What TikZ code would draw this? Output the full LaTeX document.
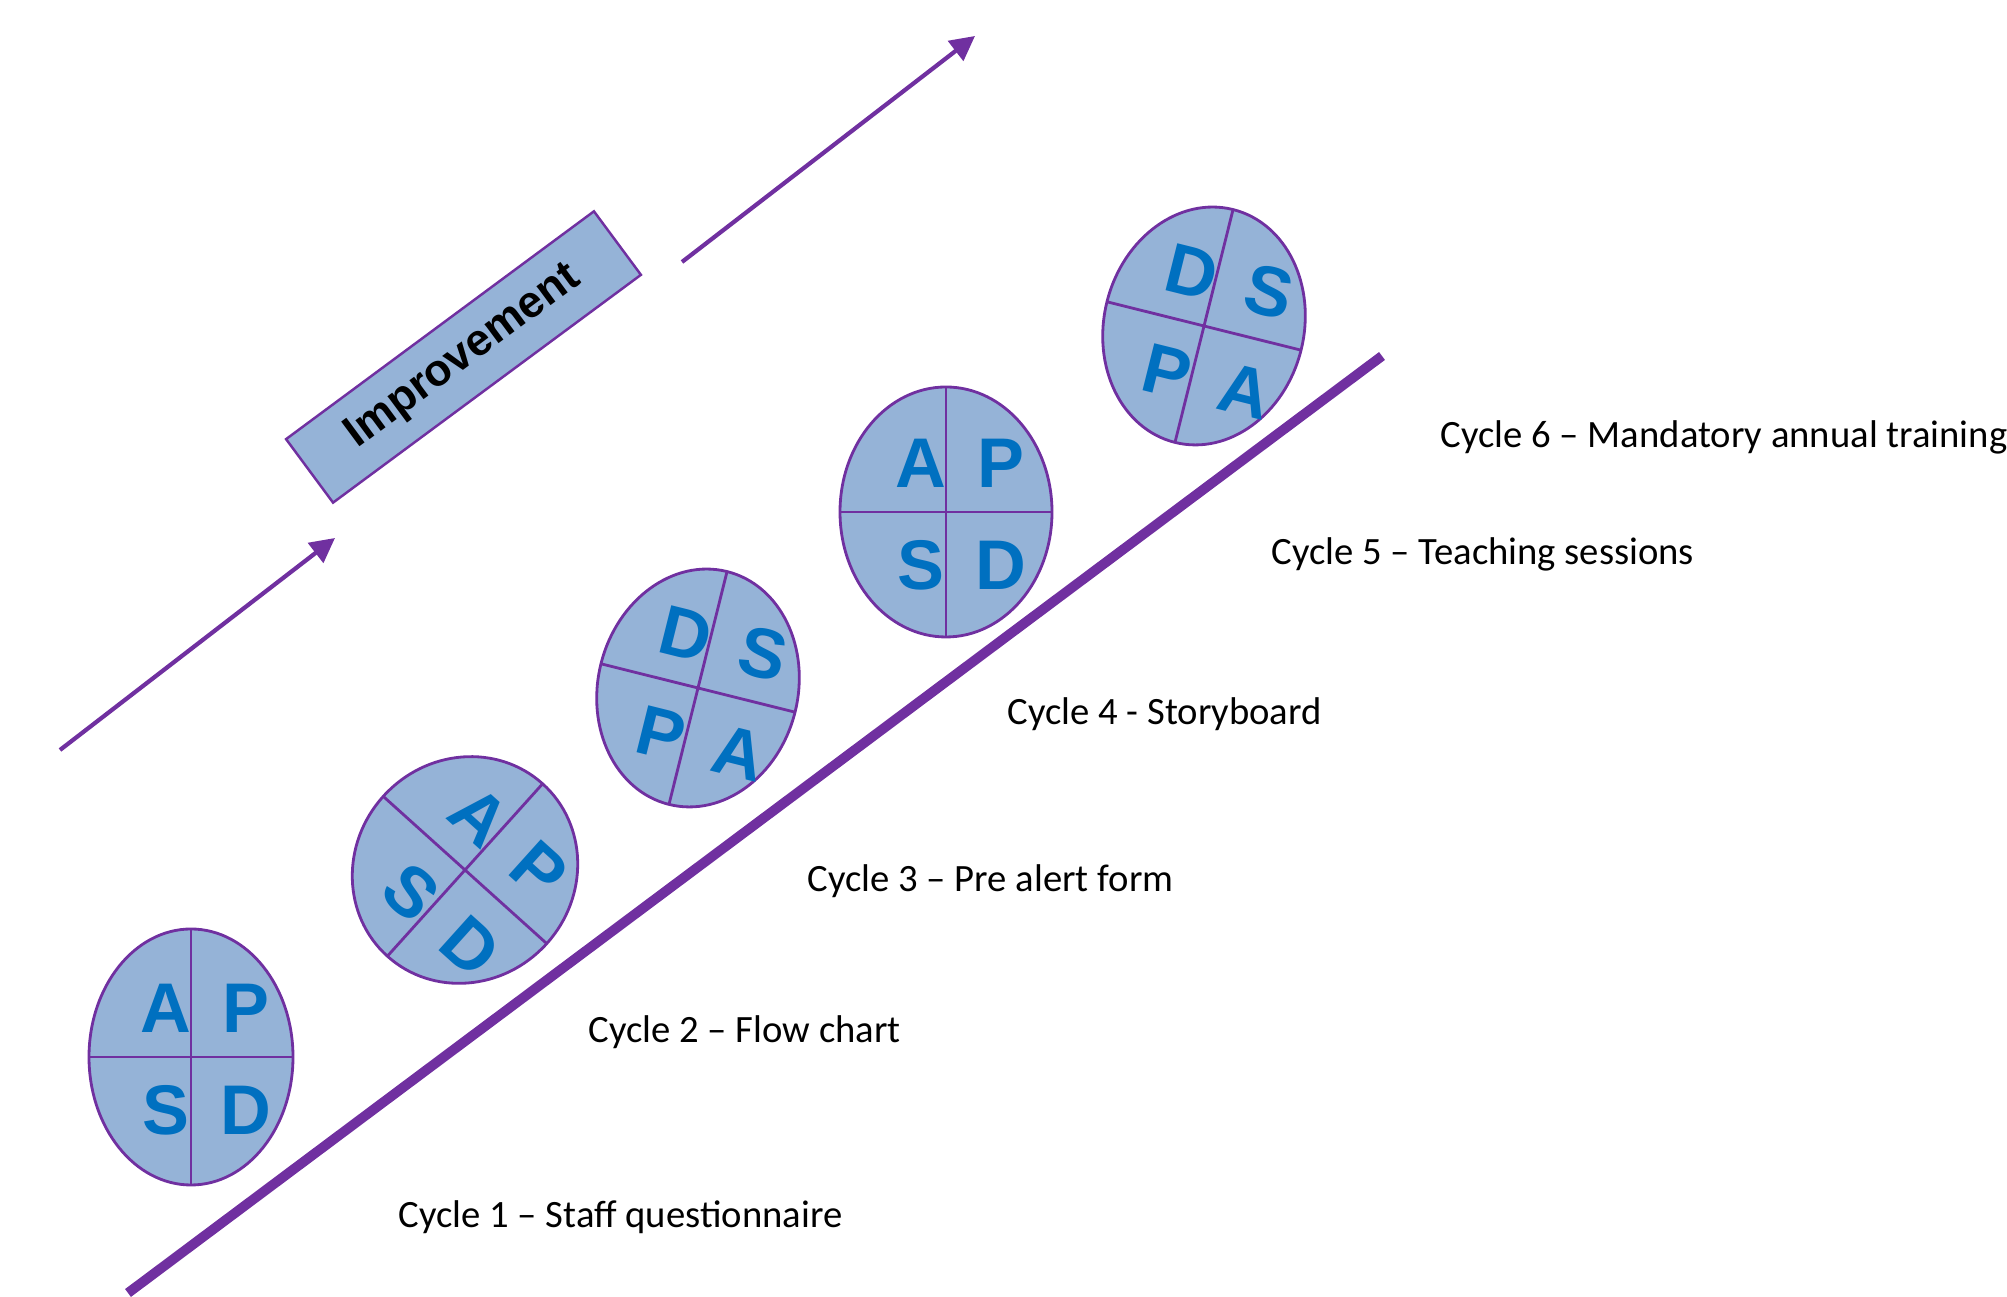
\documentclass[tikz,border=0pt]{standalone}
\usepackage{fontspec}
\setmainfont{Carlito}
\newfontfamily\arialfont{Liberation Sans}
\usetikzlibrary{arrows.meta}

\definecolor{pdsafill}{HTML}{95B3D7}
\definecolor{pdsaline}{HTML}{7030A0}
\definecolor{pdsatext}{HTML}{0070C0}

\tikzset{
  pdsa/.style={draw=pdsaline, fill=pdsafill, line width=0.8pt},
  quarter/.style={draw=pdsaline, line width=0.8pt},
  letter/.style={text=pdsatext, inner sep=0pt, transform shape,
    font=\arialfont\bfseries\fontsize{20}{24}\selectfont},
  cycle/.style={anchor=base west, inner sep=0pt, font=\fontsize{11}{13}\selectfont},
  trend/.style={draw=pdsaline, line width=1.2pt, -{Triangle[length=7pt,width=7pt]}}
}

\begin{document}
\begin{tikzpicture}
\useasboundingbox (0,0) rectangle (20.07,12.97);

% base line
\draw[pdsaline, line width=2.8pt] (1.28,0.04) -- (13.82,9.41);

% improvement arrows and box
\coordinate (up1s) at (0.60,5.47);
\coordinate (up1e) at (3.35,7.59);
\coordinate (up2s) at (6.82,10.35);
\coordinate (up2e) at (9.75,12.61);
\draw[trend] (up1s) -- (up1e);
\draw[trend] (up2s) -- (up2e);
\node[draw=pdsaline, fill=pdsafill, line width=0.7pt, rotate=36.5,
      minimum width=3.83cm, minimum height=0.79cm, inner sep=0pt,
      font=\arialfont\bfseries\fontsize{12.7}{15}\selectfont] (impr) at (4.635,9.40) {Improvement};

% the cycles
\foreach \n/\cx/\cy/\rx/\ry/\rot/\tl/\tr/\bl/\br in {
    1/1.91/2.40/1.02/1.28/0/A/P/S/D,
    2/4.65/4.27/1.10/1.16/-42/A/P/S/D,
    3/6.98/6.09/1.00/1.20/-14/D/S/P/A,
    4/9.46/7.85/1.06/1.25/0/A/P/S/D,
    6/12.04/9.71/1.00/1.20/-14/D/S/P/A}{
  \begin{scope}[shift={(\cx,\cy)}, rotate=\rot]
    \draw[pdsa] (0,0) ellipse [x radius=\rx, y radius=\ry];
    \draw[quarter] (-\rx,0) -- (\rx,0);
    \draw[quarter] (0,-\ry) -- (0,\ry);
    \node[letter] (c\n-tl) at (-0.25,0.49) {\tl};
    \node[letter] (c\n-tr) at (0.55,0.49) {\tr};
    \node[letter] (c\n-bl) at (-0.25,-0.53) {\bl};
    \node[letter] (c\n-br) at (0.55,-0.53) {\br};
  \end{scope}
}

% labels
\node[cycle] (lab1) at (3.98,0.69) {Cycle 1 – Staff questionnaire};
\node[cycle] (lab2) at (5.88,2.54) {Cycle 2 – Flow chart};
\node[cycle] (lab3) at (8.07,4.05) {Cycle 3 – Pre alert form};
\node[cycle] (lab4) at (10.07,5.72) {Cycle 4 - Storyboard};
\node[cycle] (lab5) at (12.71,7.32) {Cycle 5 – Teaching sessions};
\node[cycle] (lab6) at (14.40,8.49) {Cycle 6 – Mandatory annual training};
\end{tikzpicture}
\end{document}
